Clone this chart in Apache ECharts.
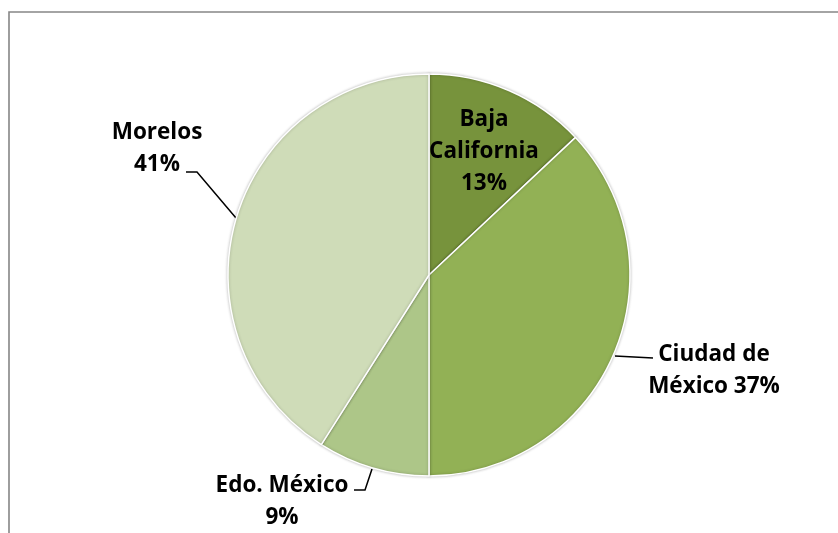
<!DOCTYPE html>
<html>
<head>
<meta charset="utf-8">
<script src="https://cdn.jsdelivr.net/npm/echarts@6/dist/echarts.min.js"></script>
<style>
html,body{margin:0;padding:0;background:#fff;}
#chart{width:838px;height:533px;}
</style>
</head>
<body>
<div id="chart"></div>
<script>
const categories = ['Baja California', 'Ciudad de México', 'Edo. México', 'Morelos'];
const values = [13, 37, 9, 41];
const labelTexts = ['Baja\nCalifornia\n13%', 'Ciudad de\nMéxico 37%', 'Edo. México\n9%', 'Morelos\n41%'];
const colors = ['#77933C', '#92B155', '#ADC688', '#CFDCB8'];

// label placement (styling only)
const labelPos = [
  {x: 484, y: 152, line: null},
  {x: 714, y: 371, line: [[615, 356], [634, 357], [653, 358]]},
  {x: 282, y: 502, line: [[372, 469], [365, 490], [354, 490]]},
  {x: 157, y: 149, line: [[236, 218], [197, 172], [186, 172]]}
];

const chart = echarts.init(document.getElementById('chart'), null, {renderer: 'canvas'});
chart.setOption({
  animation: false,
  backgroundColor: '#fff',
  graphic: [{
    type: 'rect',
    shape: {x: 9, y: 12, width: 900, height: 600},
    style: {fill: 'none', stroke: '#868686', lineWidth: 1.6},
    silent: true
  }],
  series: [{
    type: 'pie',
    center: [429, 275],
    radius: 201,
    startAngle: 90,
    clockwise: true,
    avoidLabelOverlap: false,
    itemStyle: {borderColor: '#fff', borderWidth: 1.5, shadowColor: 'rgba(0,0,0,0.25)', shadowBlur: 3},
    label: {
      show: true,
      position: 'outside',
      color: '#000',
      fontFamily: 'Open Sans',
      fontWeight: 'bold',
      fontSize: 22.5,
      lineHeight: 32,
      align: 'center',
      formatter: p => labelTexts[p.dataIndex]
    },
    labelLine: {show: true, lineStyle: {color: '#000', width: 1.5}},
    labelLayout: p => {
      const lp = labelPos[p.dataIndex];
      const r = {x: lp.x, y: lp.y, align: 'center', verticalAlign: 'middle'};
      if (lp.line) r.labelLinePoints = lp.line;
      return r;
    },
    data: categories.map((c, i) => ({
      name: c,
      value: values[i],
      itemStyle: {color: colors[i]},
      labelLine: {show: i !== 0}
    }))
  }]
});
</script>
</body>
</html>
